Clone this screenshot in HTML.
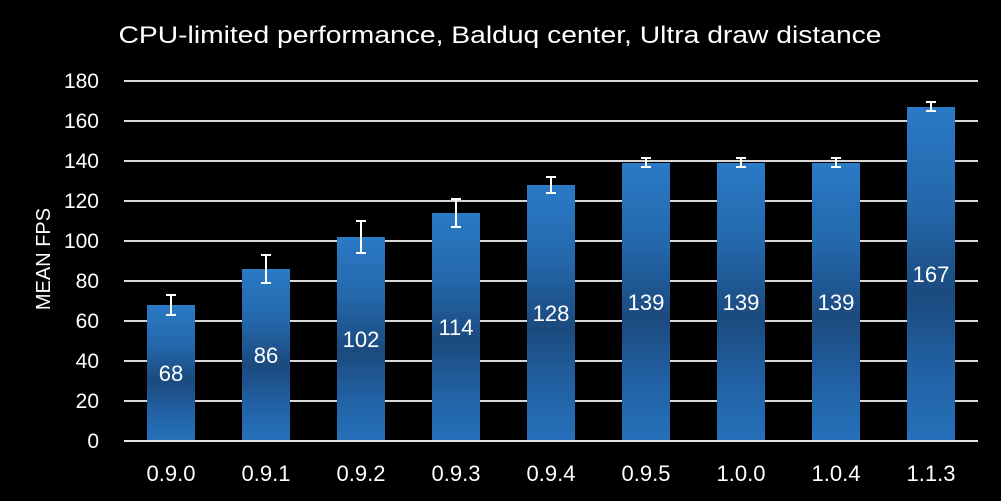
<!DOCTYPE html>
<html><head><meta charset="utf-8"><style>
html,body{margin:0;padding:0;background:#000;}
svg{display:block;}
text{font-family:"Liberation Sans",sans-serif;fill:#fff;}
</style></head><body>
<svg width="1001" height="501" viewBox="0 0 1001 501" xmlns="http://www.w3.org/2000/svg">
<defs>
<linearGradient id="g" x1="0" y1="0" x2="0" y2="1">
<stop offset="0" stop-color="#2a7ac6"/>
<stop offset="0.3" stop-color="#2467ab"/>
<stop offset="0.56" stop-color="#1b4a7e"/>
<stop offset="0.8" stop-color="#2262a6"/>
<stop offset="1" stop-color="#2571ba"/>
</linearGradient>
</defs>
<rect width="1001" height="501" fill="#000"/>
<text x="500" y="43" font-size="24" text-anchor="middle" textLength="763" lengthAdjust="spacingAndGlyphs">CPU-limited performance,  Balduq center, Ultra draw distance</text>
<g stroke="#d9d9d9" stroke-width="2">
<line x1="124" x2="978" y1="81" y2="81"/>
<line x1="124" x2="978" y1="121" y2="121"/>
<line x1="124" x2="978" y1="161" y2="161"/>
<line x1="124" x2="978" y1="201" y2="201"/>
<line x1="124" x2="978" y1="241" y2="241"/>
<line x1="124" x2="978" y1="281" y2="281"/>
<line x1="124" x2="978" y1="321" y2="321"/>
<line x1="124" x2="978" y1="361" y2="361"/>
<line x1="124" x2="978" y1="401" y2="401"/>
</g>
<g font-size="21" text-anchor="end">
<text x="99" y="88">180</text>
<text x="99" y="128">160</text>
<text x="99" y="168">140</text>
<text x="99" y="208">120</text>
<text x="99" y="248">100</text>
<text x="99" y="288">80</text>
<text x="99" y="328">60</text>
<text x="99" y="368">40</text>
<text x="99" y="408">20</text>
<text x="99" y="448">0</text>
</g>
<text transform="translate(50,259) rotate(-90)" font-size="20" text-anchor="middle">MEAN FPS</text>
<g fill="url(#g)">
<rect x="147" y="305" width="48" height="136"/>
<rect x="242" y="269" width="48" height="172"/>
<rect x="337" y="237" width="48" height="204"/>
<rect x="432" y="213" width="48" height="228"/>
<rect x="527" y="185" width="48" height="256"/>
<rect x="622" y="163" width="48" height="278"/>
<rect x="717" y="163" width="48" height="278"/>
<rect x="812" y="163" width="48" height="278"/>
<rect x="907" y="107" width="48" height="334"/>
</g>
<line x1="124" x2="978" y1="441" y2="441" stroke="#e6e6e6" stroke-width="2"/>
<g stroke="#fff" stroke-width="2" fill="none">
<path d="M171 295V315M166 295H176M166 315H176"/>
<path d="M266 255V283M261 255H271M261 283H271"/>
<path d="M361 221V253M356 221H366M356 253H366"/>
<path d="M456 199V227M451 199H461M451 227H461"/>
<path d="M551 177V193M546 177H556M546 193H556"/>
<path d="M646 158V167M641 158H651M641 167H651"/>
<path d="M741 158V167M736 158H746M736 167H746"/>
<path d="M836 158V167M831 158H841M831 167H841"/>
<path d="M931 102V111M926 102H936M926 111H936"/>
</g>
<g font-size="22" text-anchor="middle">
<text x="171" y="381">68</text>
<text x="266" y="363">86</text>
<text x="361" y="347">102</text>
<text x="456" y="335">114</text>
<text x="551" y="321">128</text>
<text x="646" y="310">139</text>
<text x="741" y="310">139</text>
<text x="836" y="310">139</text>
<text x="931" y="282">167</text>
</g>
<g font-size="22" text-anchor="middle">
<text x="171" y="481">0.9.0</text>
<text x="266" y="481">0.9.1</text>
<text x="361" y="481">0.9.2</text>
<text x="456" y="481">0.9.3</text>
<text x="551" y="481">0.9.4</text>
<text x="646" y="481">0.9.5</text>
<text x="741" y="481">1.0.0</text>
<text x="836" y="481">1.0.4</text>
<text x="931" y="481">1.1.3</text>
</g>
</svg>
</body></html>
